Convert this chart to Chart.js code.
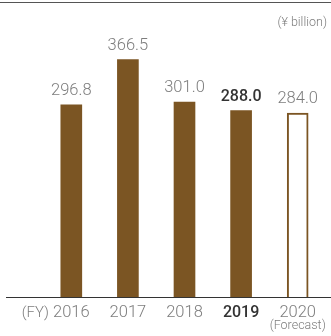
<!DOCTYPE html>
<html>
<head>
<meta charset="utf-8">
<script src="https://cdn.jsdelivr.net/npm/chart.js@4"></script>
<style>
  html, body { margin: 0; padding: 0; background: #fff; }
  #wrap { width: 331px; height: 336px; position: relative; }
</style>
</head>
<body>
<div id="wrap"><canvas id="grafico"></canvas></div>
<script>
const anos = ["2016", "2017", "2018", "2019", "2020"];
const valores = [296.8, 366.5, 301.0, 288.0, 284.0];
const rotulosValor = ["296.8", "366.5", "301.0", "288.0", "284.0"];
const indiceAtual = 3;     // 2019 em negrito
const indicePrevisao = 4;  // 2020 (Forecast)

const marrom = "#7b5523";
const cinza = "#7d7d7d";
const fonte = "Roboto, 'Liberation Sans', Arial, sans-serif";

const decoracao = {
  id: "decoracao",
  afterDraw(chart) {
    const ctx = chart.ctx;
    const area = chart.chartArea;
    const meta = chart.getDatasetMeta(0);
    ctx.save();

    // linha de cima e linha de base
    ctx.strokeStyle = "#555";
    ctx.lineWidth = 1;
    ctx.beginPath();
    ctx.moveTo(0, 2.5);
    ctx.lineTo(chart.width, 2.5);
    ctx.stroke();
    ctx.strokeStyle = "#333";
    ctx.beginPath();
    ctx.moveTo(6, area.bottom + 0.5);
    ctx.lineTo(chart.width, area.bottom + 0.5);
    ctx.stroke();

    // unidade
    ctx.fillStyle = cinza;
    ctx.font = "300 12.5px " + fonte;
    ctx.textAlign = "right";
    ctx.textBaseline = "middle";
    ctx.fillText("(\u00a5 billion)", 327, 23);

    // valores acima das barras
    ctx.textAlign = "center";
    ctx.textBaseline = "alphabetic";
    meta.data.forEach((bar, i) => {
      if (i === indiceAtual) {
        ctx.font = "500 16px " + fonte;
        ctx.fillStyle = "#333";
      } else {
        ctx.font = "300 16.5px " + fonte;
        ctx.fillStyle = cinza;
      }
      ctx.fillText(rotulosValor[i], bar.x, bar.y - 10);
    });

    // (FY) e (Forecast)
    const xScale = chart.scales.x;
    const yLabel = area.bottom + 16;
    ctx.font = "300 16.5px " + fonte;
    const w0 = ctx.measureText(anos[0]).width;
    ctx.font = "300 15px " + fonte;
    ctx.fillStyle = cinza;
    ctx.textAlign = "right";
    ctx.textBaseline = "middle";
    ctx.fillText("(FY)", xScale.getPixelForValue(0) - w0 / 2 - 4, yLabel);
    ctx.textAlign = "center";
    ctx.font = "300 12.5px " + fonte;
    ctx.fillText("(Forecast)", xScale.getPixelForValue(indicePrevisao), area.bottom + 29);
    ctx.restore();
  },
};

new Chart(document.getElementById("grafico"), {
  type: "bar",
  data: {
    labels: anos,
    datasets: [
      {
        data: valores,
        backgroundColor: valores.map((v, i) => (i === indicePrevisao ? "#fff" : marrom)),
        borderColor: marrom,
        borderWidth: valores.map((v, i) => (i === indicePrevisao ? 2 : 0)),
        borderSkipped: "bottom",
        barThickness: 21,
      },
    ],
  },
  options: {
    responsive: true,
    maintainAspectRatio: false,
    animation: false,
    layout: { padding: { top: 38, left: 43, right: 5, bottom: 0 } },
    plugins: {
      legend: { display: false },
      tooltip: { enabled: false },
    },
    scales: {
      y: {
        display: false,
        min: 0,
        max: 400,
      },
      x: {
        grid: { display: false, drawTicks: false },
        border: { display: false },
        ticks: {
          padding: 6,
          color: (c) => (c.index === indiceAtual ? "#333" : cinza),
          font: (c) => ({
            family: fonte,
            size: c.index === indiceAtual ? 16 : 16.5,
            weight: c.index === indiceAtual ? "500" : "300",
          }),
        },
        afterFit(axis) {
          axis.height = 39;
        },
      },
    },
  },
  plugins: [decoracao],
});
</script>
</body>
</html>
